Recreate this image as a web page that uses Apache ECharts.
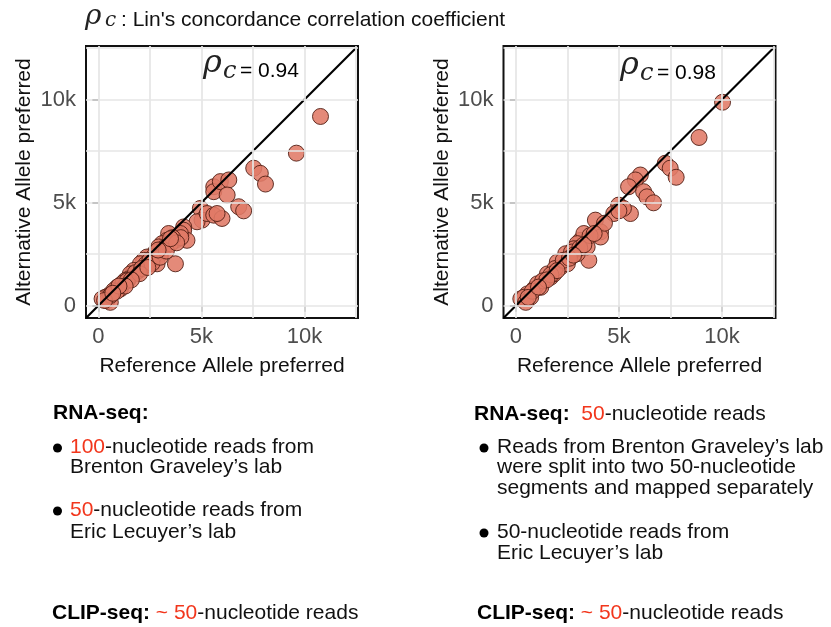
<!DOCTYPE html>
<html>
<head>
<meta charset="utf-8">
<script src="https://cdn.jsdelivr.net/npm/echarts@6/dist/echarts.min.js"></script>
<style>
html,body{margin:0;padding:0;background:#fff;}
#c{width:831px;height:627px;}
</style>
</head>
<body>
<div id="c"></div>
<script>
// ---- data ----
const tickValues = [0, 5000, 10000];
const gridValues = [0, 2500, 5000, 7500, 10000, 12500];
const axisMin = -600;
const axisMax = 12600;
const xTitle = 'Reference Allele preferred';
const yTitle = 'Alternative Allele preferred';

// Left panel: reference-preferred (x) vs alternative-preferred (y)
const leftRef = [10780, 9610, 7540, 7860, 8110, 6810, 7050, 3740, 5600, 5600, 5920, 6330, 6250, 4950, 5030, 4790, 5280, 5600, 6000, 5760,
  4140, 4140, 4300, 3900, 3740, 3980, 3410, 3330, 3090, 2930, 3010, 2770, 2520, 2610, 2850, 2360, 2200, 2040, 1960, 1720,
  1550, 1470, 1310, 1150, 1070, 910, 740, 660, 500, 340, 180, 420, 580, 1800, 2300, 2700, 3200, 1200, 900, 2500,
  3500, 4000, 2100, 1400, 600, 300, 3600,
  2000, 2600, 3000, 3300, 1600, 3800, 2400, 1300, 2900, 3500, 1000, 700];
const leftAlt = [9180, 7400, 6670, 6420, 5900, 4800, 4600, 2030, 5770, 5530, 6020, 6100, 5370, 4720, 4150, 4070, 4470, 4390, 4230, 4470,
  3820, 3660, 3170, 3410, 3170, 3500, 3500, 3170, 3010, 2850, 2520, 2600, 2360, 2110, 2030, 2360, 2200, 2030, 1710, 1710,
  1540, 1300, 1220, 1060, 810, 890, 730, 570, 490, 410, 330, 240, 160, 1600, 2000, 2400, 2800, 1100, 700, 2200,
  3000, 3300, 1800, 1200, 500, 250, 3300,
  1550, 2050, 2350, 2650, 1250, 3050, 1850, 950, 2700, 3250, 950, 600];

// Right panel
const rightRef = [10030, 8890, 7250, 7490, 7780, 6040, 5800, 5470, 6200, 6360, 6680, 4990, 4750, 5560, 5220, 3860, 4110, 4110, 3540, 3140,
  3300, 2980, 2820, 2660, 2420, 2170, 2010, 1690, 1850, 1370, 1210, 890, 560, 240, 400, 720, 480, 1050, 1530, 2500,
  2980, 3460, 1900, 2300, 2700, 3600, 1300, 800, 4300, 5000, 3100, 600, 1700,
  2000, 2600, 3300, 1500, 3800, 2800, 1100];
const rightAlt = [9870, 8160, 6910, 6670, 6230, 6340, 6100, 5770, 5530, 5280, 4990, 4880, 4470, 4470, 4720, 4150, 3580, 3330, 2200, 3170,
  3500, 3010, 2760, 2360, 2520, 1870, 2110, 1380, 1540, 1220, 890, 810, 570, 330, 410, 410, 160, 1060, 1540, 2030,
  2520, 2850, 1800, 2200, 2600, 3400, 1200, 700, 4000, 4600, 2800, 400, 1500,
  1700, 2300, 2950, 1250, 3500, 2450, 900];

const rhoValues = ['0.94', '0.98'];

// ---- styles ----
const SANS = 'Liberation Sans';
const SERIF = 'DejaVu Serif';
const RED = '#f2361c';
const PT_FILL = '#e07a66';
const PT_EDGE = '#4e1d12';

const zip = (a, b) => a.map((v, i) => [v, b[i]]);
const fmt = v => (v === 0 ? '0' : (v / 1000) + 'k');

const grids = [
  {left: 86, top: 46, width: 272, height: 272},
  {left: 503.5, top: 46, width: 272, height: 272}
];

function xAxisFor(i) {
  return {
    gridIndex: i, type: 'value', min: axisMin, max: axisMax,
    axisLine: {show: false},
    splitLine: {show: false},
    axisTick: {show: true, customValues: tickValues, length: 6, lineStyle: {color: '#333', width: 1.5}},
    axisLabel: {customValues: tickValues, formatter: fmt, fontSize: 22, fontFamily: SANS, color: '#4d4d4d', margin: 8},
    name: xTitle, nameLocation: 'middle', nameGap: 38,
    nameTextStyle: {fontSize: 21, fontFamily: SANS, color: '#111'}
  };
}
function yAxisFor(i) {
  return {
    gridIndex: i, type: 'value', min: axisMin, max: axisMax,
    axisLine: {show: false},
    splitLine: {show: false},
    axisTick: {show: true, customValues: tickValues, length: 6, lineStyle: {color: '#333', width: 1.5}},
    axisLabel: {customValues: tickValues, formatter: fmt, fontSize: 22, fontFamily: SANS, color: '#4d4d4d', margin: 10},
    name: yTitle, nameLocation: 'middle', nameGap: 51,
    nameTextStyle: {fontSize: 21, fontFamily: SANS, color: '#111'}
  };
}

function gridLineSeries(i) {
  const data = [];
  gridValues.forEach(v => { data.push({xAxis: v}); data.push({yAxis: v}); });
  return {
    type: 'line', xAxisIndex: i, yAxisIndex: i, data: [], z: 1, silent: true,
    markLine: {
      silent: true, symbol: 'none', animation: false,
      label: {show: false},
      lineStyle: {color: '#e6e6e6', width: 1.7, type: 'solid'},
      data: data
    }
  };
}
function scatterSeries(i, ref, alt) {
  return {
    type: 'scatter', xAxisIndex: i, yAxisIndex: i, z: 3,
    data: zip(ref, alt), symbolSize: 16,
    itemStyle: {color: PT_FILL, borderColor: PT_EDGE, borderWidth: 1, opacity: 0.88}
  };
}
function diagSeries(i) {
  return {
    type: 'line', xAxisIndex: i, yAxisIndex: i, z: 4, symbol: 'none', silent: true,
    data: [[axisMin, axisMin], [axisMax, axisMax]],
    lineStyle: {color: '#000', width: 2.2}
  };
}

function txt(x, y, text, opts) {
  return {
    type: 'text', x: x, y: y, z: 10,
    style: Object.assign({text: text, fontSize: 21, fontFamily: SANS, fill: '#111', align: 'left', verticalAlign: 'middle'}, opts || {})
  };
}
function rtxt(x, y, text) {
  return txt(x, y, text, {
    rich: {
      r: {fill: RED, fontSize: 21, fontFamily: SANS},
      b: {fill: '#000', fontSize: 21, fontFamily: SANS, fontWeight: 'bold'},
      n: {fill: '#111', fontSize: 21, fontFamily: SANS}
    }
  });
}
function rhoLabel(x, yb, value) {
  return [
    txt(x, yb - 14, 'ρ', {fontSize: 32, fontFamily: SERIF, fontStyle: 'italic', fill: '#222'}),
    txt(x + 20, yb - 6, 'c', {fontSize: 24, fontFamily: SERIF, fontStyle: 'italic', fill: '#222'}),
    txt(x + 37, yb - 7, '= ' + value, {fontSize: 21, fontFamily: SANS, fill: '#000'})
  ];
}

const graphics = [].concat(
  [
    txt(85, 17, 'ρ', {fontSize: 28, fontFamily: SERIF, fontStyle: 'italic', fill: '#222'}),
    txt(105, 21, 'c', {fontSize: 20, fontFamily: SERIF, fontStyle: 'italic', fill: '#222'}),
    txt(121, 20, ": Lin's concordance correlation coefficient", {fontSize: 21, fill: '#111'})
  ],
  rhoLabel(203, 78, rhoValues[0]),
  rhoLabel(620, 80, rhoValues[1]),
  [
    // left block
    rtxt(53, 413, '{b|RNA-seq:}'),
    {type: 'circle', shape: {cx: 57.5, cy: 448, r: 4.5}, style: {fill: '#000'}, z: 10},
    rtxt(70, 447, '{r|100}{n|-nucleotide reads from}'),
    txt(70, 467, 'Brenton Graveley’s lab'),
    {type: 'circle', shape: {cx: 57.5, cy: 511, r: 4.5}, style: {fill: '#000'}, z: 10},
    rtxt(70, 510, '{r|50}{n|-nucleotide reads from}'),
    txt(70, 532, 'Eric Lecuyer’s lab'),
    rtxt(52, 613, '{b|CLIP-seq:} {r|~ 50}{n|-nucleotide reads}'),
    // right block
    rtxt(474, 414, '{b|RNA-seq:}  {r|50}{n|-nucleotide reads}'),
    {type: 'circle', shape: {cx: 484, cy: 448, r: 4.5}, style: {fill: '#000'}, z: 10},
    txt(497, 447, 'Reads from Brenton Graveley’s lab'),
    txt(497, 467, 'were split into two 50-nucleotide'),
    txt(497, 488, 'segments and mapped separately'),
    {type: 'circle', shape: {cx: 484, cy: 533, r: 4.5}, style: {fill: '#000'}, z: 10},
    txt(497, 532, '50-nucleotide reads from'),
    txt(497, 553, 'Eric Lecuyer’s lab'),
    rtxt(477, 613, '{b|CLIP-seq:} {r|~ 50}{n|-nucleotide reads}')
  ]
);

const chart = echarts.init(document.getElementById('c'), null, {renderer: 'canvas'});
chart.setOption({
  backgroundColor: '#fff',
  animation: false,
  grid: grids.map(g => Object.assign({show: true, backgroundColor: '#fff', borderColor: '#111', borderWidth: 2}, g)),
  xAxis: [xAxisFor(0), xAxisFor(1)],
  yAxis: [yAxisFor(0), yAxisFor(1)],
  series: [
    gridLineSeries(0), scatterSeries(0, leftRef, leftAlt), diagSeries(0),
    gridLineSeries(1), scatterSeries(1, rightRef, rightAlt), diagSeries(1)
  ],
  graphic: graphics
});
</script>
</body>
</html>
